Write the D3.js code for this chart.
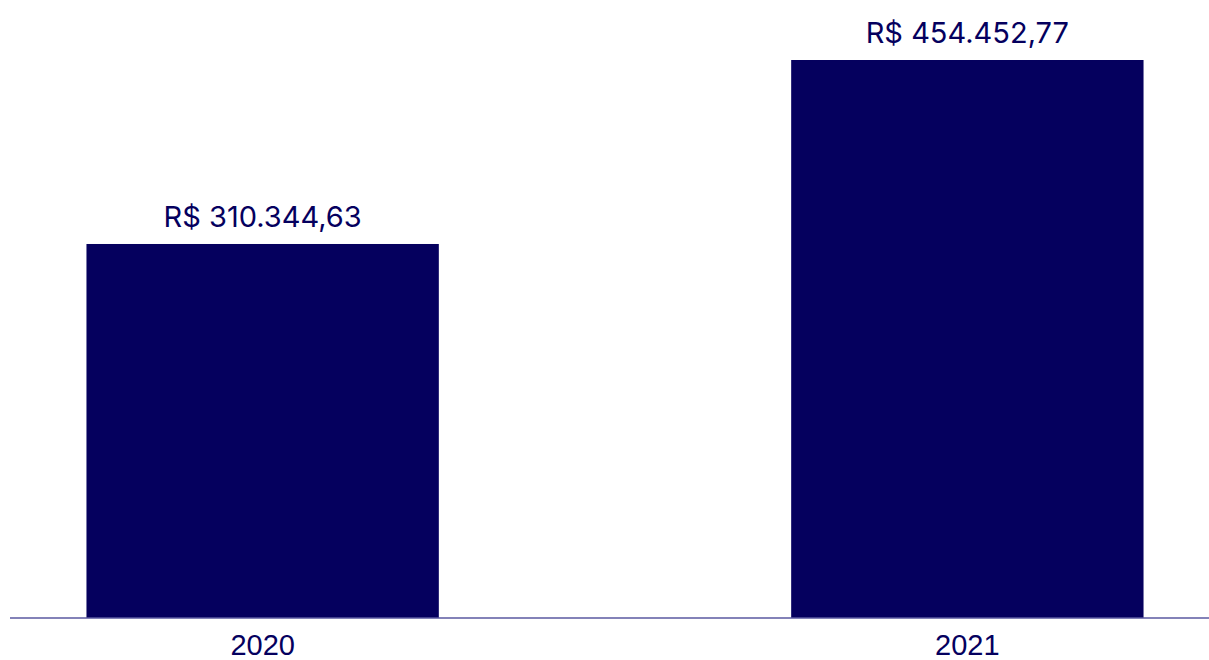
<!DOCTYPE html>
<html><head><meta charset="utf-8">
<script src="https://cdn.jsdelivr.net/npm/d3@7"></script>
<style>html,body{margin:0;padding:0;background:#fff;}</style>
</head><body>
<svg id="chart" width="1209" height="660"></svg>
<script>
const categories = ["2020", "2021"];
const values = [310344.63, 454452.77];
const valueLabels = ["R$ 310.344,63", "R$ 454.452,77"];
const yDomain = [17400, 454452.77];

const svg = d3.select("#chart");
const x = d3.scaleBand().domain(categories).range([16, 1214]).paddingInner(0.5).paddingOuter(0.1);
const y = d3.scaleLinear().domain(yDomain).range([618, 60]);
const navy = "#05005e";

svg.selectAll("rect.bar").data(values).join("rect")
  .attr("class", "bar")
  .attr("x", (d, i) => x(categories[i]))
  .attr("width", x.bandwidth())
  .attr("y", d => y(d))
  .attr("height", d => y(yDomain[0]) - y(d))
  .attr("fill", navy);

svg.selectAll("text.val").data(values).join("text")
  .attr("class", "val")
  .attr("x", (d, i) => x(categories[i]) + x.bandwidth() / 2)
  .attr("y", d => y(d) - 17)
  .attr("text-anchor", "middle")
  .attr("font-family", "Inter, sans-serif")
  .attr("font-size", 29)
  .attr("fill", navy)
  .text((d, i) => valueLabels[i]);

const axis = svg.append("g").attr("transform", "translate(0,618)")
  .call(d3.axisBottom(x).tickSize(0).tickPadding(16));
axis.select(".domain").remove();
axis.append("line").attr("x1", 10).attr("x2", 1209).attr("y1", 0).attr("y2", 0)
  .attr("stroke", "#5a58a0").attr("stroke-width", 1.5);
axis.selectAll(".tick text")
  .attr("font-family", "Liberation Sans, Arial, sans-serif")
  .attr("font-size", 29)
  .attr("fill", navy)
  .attr("dy", "0.71em");
</script>
</body></html>
